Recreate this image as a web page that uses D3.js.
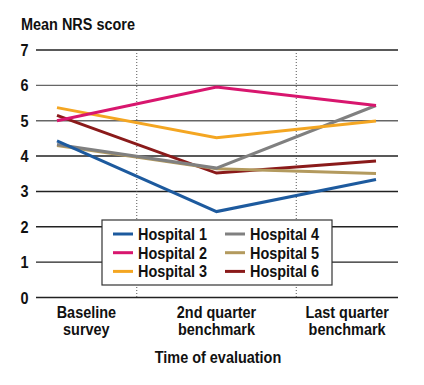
<!DOCTYPE html>
<html>
<head>
<meta charset="utf-8">
<script src="https://cdn.jsdelivr.net/npm/d3@7"></script>
<style>
  body { margin: 0; background: #fff; }
  svg text { font-family: "Liberation Sans", Arial, sans-serif; font-weight: bold; fill: #111; font-size: 17px; }
</style>
</head>
<body>
<svg id="chart"></svg>
<script>
const times = ["Baseline survey", "2nd quarter benchmark", "Last quarter benchmark"];
const timeLabels = [["Baseline", "survey"], ["2nd quarter", "benchmark"], ["Last quarter", "benchmark"]];
const hospitals = ["Hospital 1", "Hospital 2", "Hospital 3", "Hospital 4", "Hospital 5", "Hospital 6"];
const colors = ["#1d5a9e", "#d8166e", "#f4a622", "#808080", "#b39a5e", "#8a1a1a"];
const h1 = [4.43, 2.43, 3.34];
const h2 = [5.0, 5.95, 5.43];
const h3 = [5.37, 4.52, 4.99];
const h4 = [4.33, 3.66, 5.43];
const h5 = [4.3, 3.64, 3.51];
const h6 = [5.15, 3.52, 3.86];
const yTicks = [0, 1, 2, 3, 4, 5, 6, 7];

const series = [h1, h2, h3, h4, h5, h6];
// draw order: back to front as in the figure
const drawOrder = [5, 4, 3, 2, 0, 1];

const width = 424, height = 385;
const svg = d3.select("#chart").attr("width", width).attr("height", height);

const left = 36, right = 398;
const x = d3.scalePoint().domain(times).range([57, 376]);
const y = d3.scaleLinear().domain([0, 7]).range([297.5, 50]);

// narrow bold text (condensed look)
const squeeze = 0.85;
function label(parent, tx, ty, str, anchor) {
  return parent.append("text")
    .attr("transform", `translate(${tx},${ty}) scale(${squeeze},1)`)
    .attr("text-anchor", anchor || "start")
    .text(str);
}

// boundaries between the time columns
const xs = times.map(t => x(t));
const bounds = [left, (xs[0] + xs[1]) / 2, (xs[1] + xs[2]) / 2, right];

// horizontal grid
svg.append("g")
  .selectAll("line")
  .data(yTicks)
  .join("line")
  .attr("x1", left).attr("x2", right)
  .attr("y1", d => y(d)).attr("y2", d => y(d))
  .attr("stroke", d => (d === 5 || d === 6) ? "#666" : "#222")
  .attr("stroke-width", 1.4);

// y tick labels
const yl = svg.append("g");
yTicks.forEach(t => label(yl, 28.5, y(t) + 6, t, "end"));

// dotted separators
svg.append("g")
  .selectAll("line")
  .data(bounds.slice(1, 3))
  .join("line")
  .attr("x1", d => d).attr("x2", d => d)
  .attr("y1", y(7)).attr("y2", y(0))
  .attr("stroke", "#555")
  .attr("stroke-width", 1)
  .attr("stroke-dasharray", "1,2");

// lines
const line = d3.line().x((d, i) => x(times[i])).y(d => y(d));
svg.append("g")
  .selectAll("path")
  .data(drawOrder)
  .join("path")
  .attr("d", i => line(series[i]))
  .attr("fill", "none")
  .attr("stroke", i => colors[i])
  .attr("stroke-width", 3);

// axis title
label(svg, 21, 29.5, "Mean NRS score");

// x labels, two lines each
timeLabels.forEach((lines, i) => {
  const cx = (bounds[i] + bounds[i + 1]) / 2;
  lines.forEach((s, j) => label(svg, cx, 318 + j * 17, s, "middle"));
});

label(svg, 218, 363, "Time of evaluation", "middle");

// legend
const lg = svg.append("g").attr("transform", "translate(102,220)");
lg.append("rect")
  .attr("width", 230).attr("height", 65)
  .attr("fill", "#fff")
  .attr("stroke", "#333")
  .attr("stroke-width", 1.2);
hospitals.forEach((h, i) => {
  const gx = Math.floor(i / 3) * 112, gy = 14 + (i % 3) * 18.7;
  lg.append("line")
    .attr("x1", gx + 11).attr("x2", gx + 31)
    .attr("y1", gy).attr("y2", gy)
    .attr("stroke", colors[i])
    .attr("stroke-width", 3);
  label(lg, gx + 36, gy + 6, h);
});
</script>
</body>
</html>
